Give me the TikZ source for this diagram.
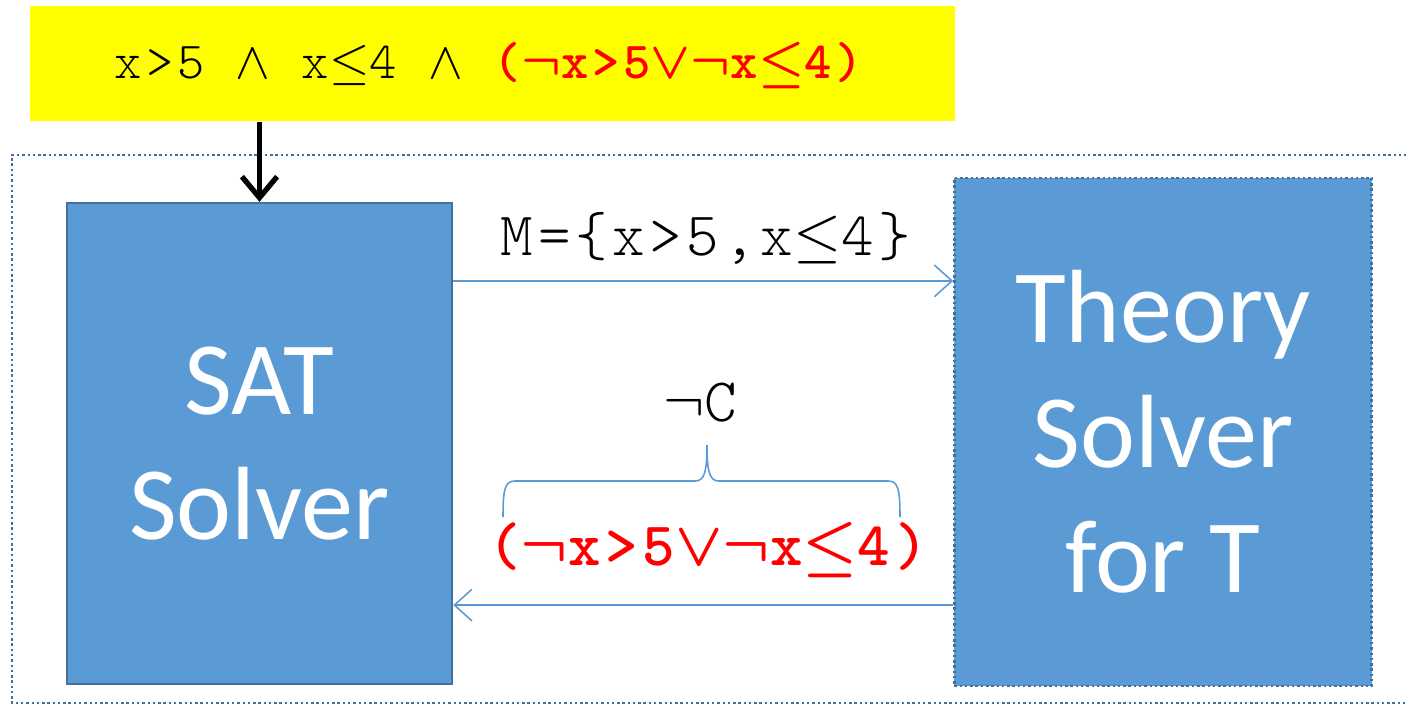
\RequirePackage{fix-cm}
\documentclass[tikz,border=0pt]{standalone}
\usepackage{fontspec}
\setmainfont{Carlito}
\newfontfamily\courfont{lmmonolt10-regular.otf}[LetterSpace=7.5, BoldFont=lmmonolt10-bold.otf]
\usetikzlibrary{arrows.meta}
\definecolor{boxblue}{RGB}{91,155,213}
\definecolor{edgeblue}{RGB}{65,113,156}
\definecolor{goalyellow}{RGB}{255,255,0}
\definecolor{clausered}{RGB}{255,0,0}
\newcommand{\myor}{\ensuremath{\vee}}
\newcommand{\myand}{\ensuremath{\wedge}}
\newcommand{\mynot}{\ensuremath{\neg}}
\newcommand{\myle}{\ensuremath{\leq}}

\begin{document}
\begin{tikzpicture}[
    x=0.01cm, y=0.01cm,
    solver/.style={
        rectangle,
        fill=boxblue,
        text=white,
        align=center,
        inner sep=0pt,
        font=\fontsize{29.6}{35.6}\selectfont
    },
    formula/.style={inner sep=0pt, font=\courfont\fontsize{14.8}{18}\selectfont},
    label/.style={inner sep=0pt, font=\courfont\fontsize{17.6}{20}\selectfont},
    link/.style={-{Straight Barb[length=5pt, width=9pt]}, draw=boxblue, line width=0.45pt},
    feed/.style={-{Straight Barb[length=6pt, width=10pt]}, line width=1.5pt},
    dotline/.style={draw=edgeblue, line width=0.7pt, dash pattern=on 0.7pt off 0.8pt}
]
\useasboundingbox (0,0) rectangle (1406,705);

% outer frame
\draw[dotline] (1412,550) -- (12,550) -- (12,2) -- (1412,2);

\node[rectangle, fill=goalyellow, minimum width=9.25cm, minimum height=1.15cm] (goal) at (492.5,641.5) {};
\node[formula] (goaltext) at (489,640) {x>5 \myand{} x\myle4 \myand{} \textcolor{clausered}{\bfseries\boldmath(\mynot x>5\myor\mynot x\myle4)}};

\node[solver, draw=edgeblue, line width=0.6pt, minimum width=3.85cm, minimum height=4.81cm] (sat) at (259.5,261.5) {SAT\\Solver};
\node[solver, dotline, minimum width=4.17cm, minimum height=5.08cm] (theory) at (1163,273) {Theory\\Solver\\for T};

\node[label] (model) at (706,467) {M=\{x>5,x\myle4\}};
\node[label] (negc) at (700,302) {\mynot C};
\node[label, text=clausered, font=\courfont\bfseries\boldmath\fontsize{17.6}{20}\selectfont] (clause) at (708,155) {(\mynot x>5\myor\mynot x\myle4)};

\draw[feed] (sat.north |- goal.south) -- (sat.north);
\draw[link] ([yshift=1.625cm]sat.east) -- ([yshift=1.625cm]sat.east -| theory.west);
\draw[link] ([yshift=-1.615cm]sat.east -| theory.west) -- ([yshift=-1.615cm]sat.east);

% brace over the clause
\draw[draw=boxblue, line width=0.45pt]
    (503,188) .. controls (503,216) and (505,224) .. (515,224) -- (695,224)
    .. controls (704,224) and (707,232) .. (707,260)
    .. controls (707,232) and (710,224) .. (719,224) -- (888,224)
    .. controls (898,224) and (900,216) .. (900,188);
\end{tikzpicture}
\end{document}
